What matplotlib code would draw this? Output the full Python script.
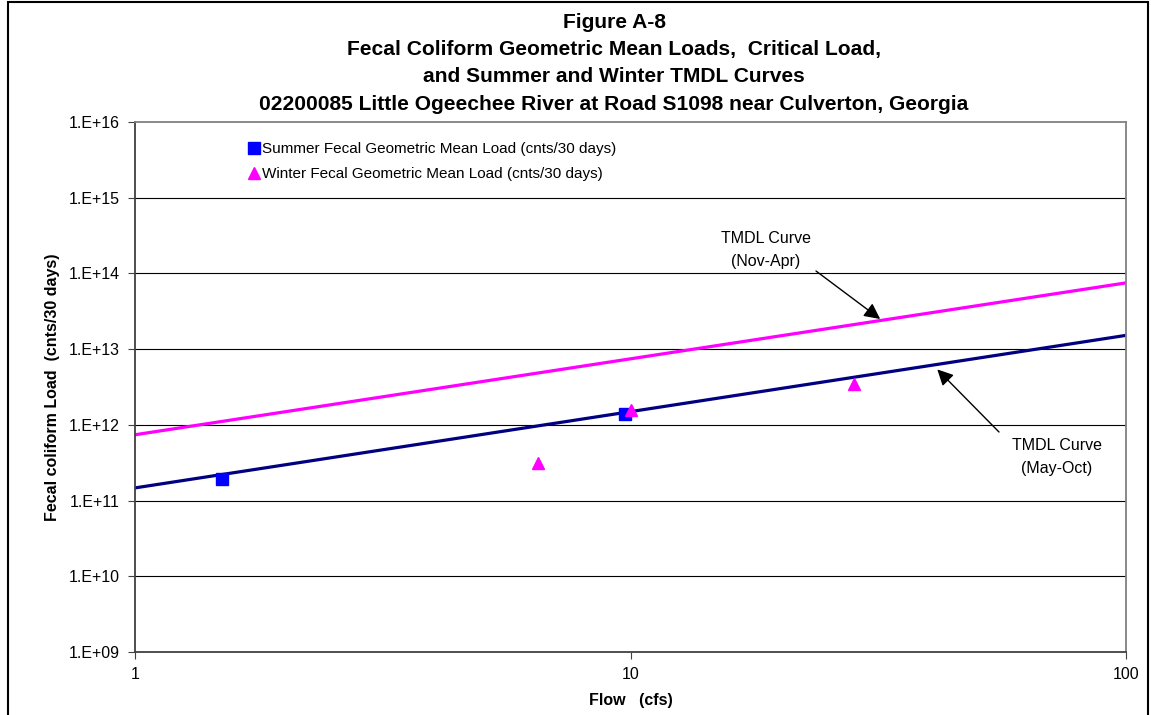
import numpy as np
import matplotlib.pyplot as plt
from matplotlib.patches import Rectangle
from matplotlib.ticker import FixedLocator, NullLocator

plt.rcParams['font.family'] = ['Liberation Sans', 'DejaVu Sans']

# observed geometric mean loads
summer_flow = [1.5, 9.75]
summer_load = [1.93e11, 1.39e12]
winter_flow = [6.5, 10.0, 28.3]
winter_load = [3.1e11, 1.57e12, 3.5e12]

# TMDL curves
tmdl_flow = [1, 100]
summer_tmdl = [1.47e11, 1.52e13]
winter_tmdl = [7.4e11, 7.5e13]

y_ticks = [1e9, 1e10, 1e11, 1e12, 1e13, 1e14, 1e15, 1e16]
y_labels = ['1.E+09', '1.E+10', '1.E+11', '1.E+12', '1.E+13', '1.E+14', '1.E+15', '1.E+16']
x_ticks = [1, 10, 100]
x_labels = ['1', '10', '100']

fig = plt.figure(figsize=(11.51, 7.15), dpi=100)
ax = fig.add_axes([0.1173, 0.0881, 0.861, 0.7413])

for yv in y_ticks[1:-1]:
    ax.axhline(yv, color='black', lw=0.8, zorder=1)

ax.plot(tmdl_flow, winter_tmdl, color='#ff00ff', lw=2.3, zorder=2)
ax.plot(tmdl_flow, summer_tmdl, color='#000080', lw=2.3, zorder=2)
ax.plot(summer_flow, summer_load, ls='none', marker='s', ms=8.5, color='#0000ff',
        label='Summer Fecal Geometric Mean Load (cnts/30 days)', zorder=3)
ax.plot(winter_flow, winter_load, ls='none', marker='^', ms=9, color='#ff00ff',
        label='Winter Fecal Geometric Mean Load (cnts/30 days)', zorder=4)

ax.set_xscale('log')
ax.set_yscale('log')
ax.set_xlim(1, 100)
ax.set_ylim(1e9, 1e16)
ax.xaxis.set_major_locator(FixedLocator(x_ticks))
ax.xaxis.set_minor_locator(NullLocator())
ax.yaxis.set_major_locator(FixedLocator(y_ticks))
ax.yaxis.set_minor_locator(NullLocator())
ax.set_xticklabels(x_labels)
ax.set_yticklabels(y_labels)
ax.tick_params(labelsize=11.5, length=5, width=0.8, color='#404040', pad=6)

for s in ax.spines.values():
    s.set_color('#808080')
    s.set_linewidth(1.3)
ax.spines['left'].set_color('#404040')
ax.spines['bottom'].set_color('#404040')

ax.set_xlabel('Flow   (cfs)', fontsize=11.5, fontweight='bold', labelpad=8)
ax.set_ylabel('Fecal coliform Load  (cnts/30 days)', fontsize=11.5, fontweight='bold', labelpad=6)

fig.suptitle('Figure A-8\nFecal Coliform Geometric Mean Loads,  Critical Load,\n'
             'and Summer and Winter TMDL Curves\n'
             '02200085 Little Ogeechee River at Road S1098 near Culverton, Georgia',
             x=0.5335, y=0.982, fontsize=15.1, fontweight='bold', linespacing=1.55)

ax.legend(loc='upper left', bbox_to_anchor=(0.105, 0.982), frameon=False,
          fontsize=11, handlelength=0.6, handletextpad=0.2, labelspacing=0.72,
          borderaxespad=0.3)

ax.text(766, 715 - 250, 'TMDL Curve\n(Nov-Apr)', transform=None, ha='center',
        va='center', fontsize=11.5, linespacing=1.6)
ax.text(1057, 715 - 457, 'TMDL Curve\n(May-Oct)', transform=None, ha='center',
        va='center', fontsize=11.5, linespacing=1.6)
arrow = dict(arrowstyle='-|>', color='black', lw=1, mutation_scale=24, shrinkA=0, shrinkB=0)
ax.annotate('', xy=(31.9, 2.5e13), xytext=(816, 715 - 271),
            textcoords='figure pixels', arrowprops=arrow)
ax.annotate('', xy=(41.6, 5.4e12), xytext=(999, 715 - 432),
            textcoords='figure pixels', arrowprops=arrow)

fig.add_artist(Rectangle((8 / 1151, -0.01), 1140 / 1151, 1.0 - 2 / 715 + 0.01,
                         transform=fig.transFigure, fill=False, ec='black', lw=1.5))

fig.savefig('out.png', dpi=100)
